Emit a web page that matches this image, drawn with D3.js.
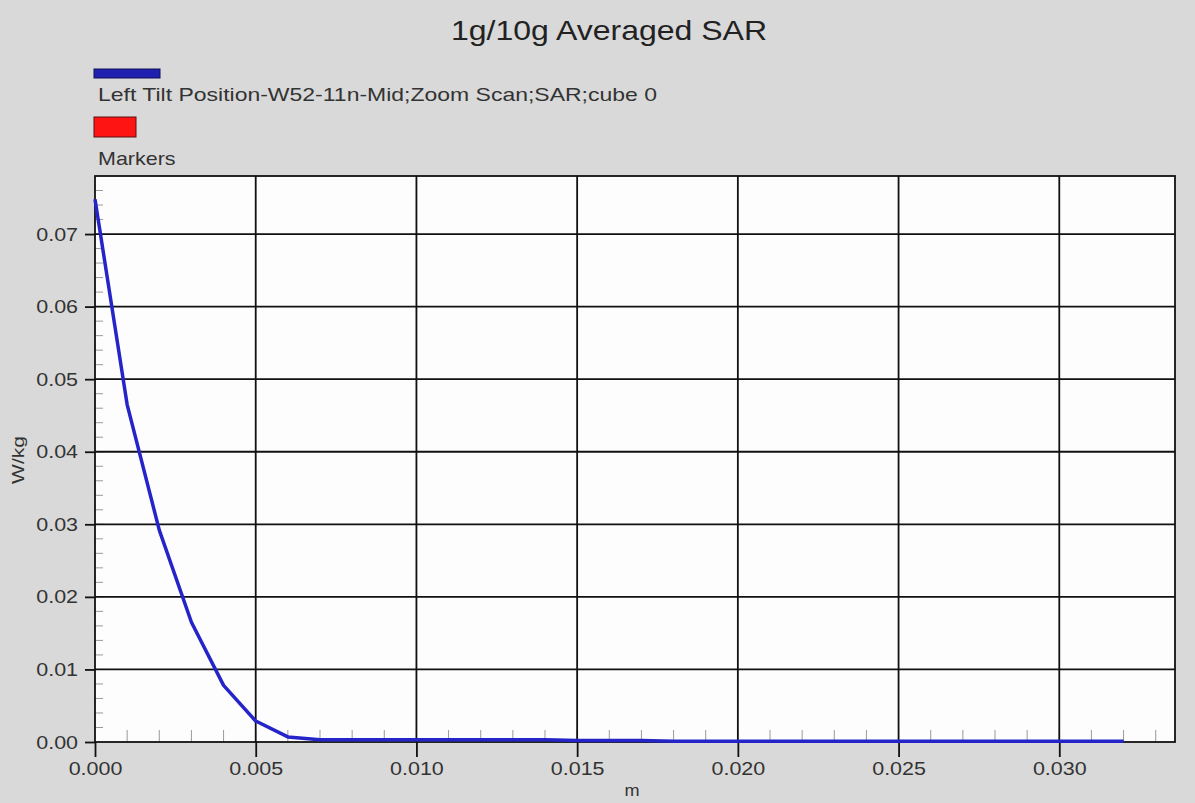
<!DOCTYPE html>
<html>
<head>
<meta charset="utf-8">
<script src="https://cdn.jsdelivr.net/npm/d3@7"></script>
<style>
  html, body { margin: 0; padding: 0; background: #d9d9d9; }
  svg { display: block; font-family: "Liberation Sans", Arial, sans-serif; }
</style>
</head>
<body>
<svg id="chart"></svg>
<script>
'use strict';

const WIDTH = 1195;
const HEIGHT = 803;
const M = { top: 176, right: 20, bottom: 61, left: 95 };
const STRETCH = 1.13;

const TITLE = '1g/10g Averaged SAR';
const SERIES_NAME = 'Left Tilt Position-W52-11n-Mid;Zoom Scan;SAR;cube 0';
const MARKERS_NAME = 'Markers';
const X_LABEL = 'm';
const Y_LABEL = 'W/kg';

// distance along the line (m)
const DIST = [
  0.000, 0.001, 0.002, 0.003, 0.004, 0.005, 0.006, 0.007, 0.008, 0.009,
  0.010, 0.011, 0.012, 0.013, 0.014, 0.015, 0.016, 0.017, 0.018, 0.019,
  0.020, 0.021, 0.022, 0.023, 0.024, 0.025, 0.026, 0.027, 0.028, 0.029,
  0.030, 0.031, 0.032
];
// averaged SAR (W/kg)
const SAR = [
  0.0748, 0.0465, 0.0292, 0.0165, 0.0078, 0.0029, 0.0007, 0.0003, 0.0003, 0.0003,
  0.0003, 0.0003, 0.0003, 0.0003, 0.0003, 0.0002, 0.0002, 0.0002, 0.0001, 0.0001,
  0.0001, 0.0001, 0.0001, 0.0001, 0.0001, 0.0001, 0.0001, 0.0001, 0.0001, 0.0001,
  0.0001, 0.0001, 0.0001
];

const X_TICKS = [0, 0.005, 0.010, 0.015, 0.020, 0.025, 0.030];
const Y_TICKS = [0, 0.01, 0.02, 0.03, 0.04, 0.05, 0.06, 0.07];
const X_DOMAIN = [0, 0.0336];
const Y_DOMAIN = [0, 0.078];

function stretch(sel, k) {
  sel.each(function () {
    const w = this.getComputedTextLength();
    d3.select(this).attr('textLength', w * k).attr('lengthAdjust', 'spacingAndGlyphs');
  });
}

const svg = d3.select('#chart')
  .attr('width', WIDTH)
  .attr('height', HEIGHT)
  .attr('viewBox', `0 0 ${WIDTH} ${HEIGHT}`);

svg.append('rect').attr('width', WIDTH).attr('height', HEIGHT).attr('fill', '#d9d9d9');

const x = d3.scaleLinear().domain(X_DOMAIN).range([M.left, WIDTH - M.right]);
const y = d3.scaleLinear().domain(Y_DOMAIN).range([HEIGHT - M.bottom, M.top]);

// plot background
svg.append('rect')
  .attr('x', x(X_DOMAIN[0])).attr('y', y(Y_DOMAIN[1]))
  .attr('width', x(X_DOMAIN[1]) - x(X_DOMAIN[0]))
  .attr('height', y(Y_DOMAIN[0]) - y(Y_DOMAIN[1]))
  .attr('fill', '#fdfdfd');

// minor ticks inside the plot
const xMinor = d3.range(0.001, X_DOMAIN[1], 0.001);
const yMinor = d3.range(0.002, Y_DOMAIN[1], 0.002);
const minor = svg.append('g').attr('stroke', '#9a9a9a').attr('stroke-width', 1);
minor.selectAll('line.xm').data(xMinor).join('line')
  .attr('x1', d => x(d)).attr('x2', d => x(d))
  .attr('y1', y(0)).attr('y2', y(0) - 12);
minor.selectAll('line.ym').data(yMinor).join('line')
  .attr('y1', d => y(d)).attr('y2', d => y(d))
  .attr('x1', x(0)).attr('x2', x(0) + 8);

// grid
const grid = svg.append('g').attr('stroke', '#111').attr('stroke-width', 1.8);
grid.selectAll('line.gx').data(X_TICKS.slice(1)).join('line')
  .attr('x1', d => x(d)).attr('x2', d => x(d))
  .attr('y1', y(Y_DOMAIN[0])).attr('y2', y(Y_DOMAIN[1]));
grid.selectAll('line.gy').data(Y_TICKS.slice(1)).join('line')
  .attr('y1', d => y(d)).attr('y2', d => y(d))
  .attr('x1', x(X_DOMAIN[0])).attr('x2', x(X_DOMAIN[1]));

// axes
const xAxis = svg.append('g')
  .attr('transform', `translate(0,${y(0)})`)
  .call(d3.axisBottom(x).tickValues(X_TICKS).tickSize(15).tickPadding(5).tickFormat(d3.format('.3f')));
const yAxis = svg.append('g')
  .attr('transform', `translate(${x(0)},0)`)
  .call(d3.axisLeft(y).tickValues(Y_TICKS).tickSize(10).tickPadding(7).tickFormat(d3.format('.2f')));

[xAxis, yAxis].forEach(a => {
  a.select('.domain').remove();
  a.selectAll('line').attr('stroke', '#111').attr('stroke-width', 1.8);
  a.selectAll('text').attr('fill', '#333').attr('font-size', 19)
    .attr('font-family', '"Liberation Sans", Arial, sans-serif');
  stretch(a.selectAll('text'), STRETCH);
});

// plot frame
svg.append('rect')
  .attr('x', x(X_DOMAIN[0])).attr('y', y(Y_DOMAIN[1]))
  .attr('width', x(X_DOMAIN[1]) - x(X_DOMAIN[0]))
  .attr('height', y(Y_DOMAIN[0]) - y(Y_DOMAIN[1]))
  .attr('fill', 'none').attr('stroke', '#111').attr('stroke-width', 1.8);

// SAR curve
const pts = DIST.map((d, i) => [d, SAR[i]]);
const line = d3.line().x(d => x(d[0])).y(d => y(d[1]));
svg.append('path')
  .datum(pts)
  .attr('d', line)
  .attr('fill', 'none')
  .attr('stroke', '#2424c8')
  .attr('stroke-width', 3.5)
  .attr('stroke-linejoin', 'round');

// title
svg.append('text')
  .attr('x', 609).attr('y', 40)
  .attr('text-anchor', 'middle')
  .attr('font-size', 28).attr('fill', '#222')
  .attr('textLength', 316).attr('lengthAdjust', 'spacingAndGlyphs')
  .text(TITLE);

// legend
const lg = svg.append('g');
lg.append('rect')
  .attr('x', 94).attr('y', 69).attr('width', 66).attr('height', 9)
  .attr('fill', '#2020b0').attr('stroke', '#10105a').attr('stroke-width', 1);
lg.append('text')
  .attr('x', 98).attr('y', 101)
  .attr('font-size', 19).attr('fill', '#333')
  .attr('textLength', 559).attr('lengthAdjust', 'spacingAndGlyphs')
  .text(SERIES_NAME);
lg.append('rect')
  .attr('x', 94).attr('y', 117).attr('width', 42).attr('height', 20)
  .attr('fill', '#ff1414').attr('stroke', '#5a1010').attr('stroke-width', 1);
const mk = lg.append('text')
  .attr('x', 98).attr('y', 165)
  .attr('font-size', 19).attr('fill', '#333')
  .text(MARKERS_NAME);
stretch(mk, STRETCH);

// axis titles
const xl = svg.append('text')
  .attr('x', 632).attr('y', 796)
  .attr('text-anchor', 'middle')
  .attr('font-size', 16).attr('fill', '#333')
  .text(X_LABEL);
stretch(xl, STRETCH);
svg.append('text')
  .attr('transform', 'translate(24,460) rotate(-90)')
  .attr('text-anchor', 'middle')
  .attr('font-size', 16).attr('fill', '#333')
  .attr('textLength', 48).attr('lengthAdjust', 'spacingAndGlyphs')
  .text(Y_LABEL);
</script>
</body>
</html>
